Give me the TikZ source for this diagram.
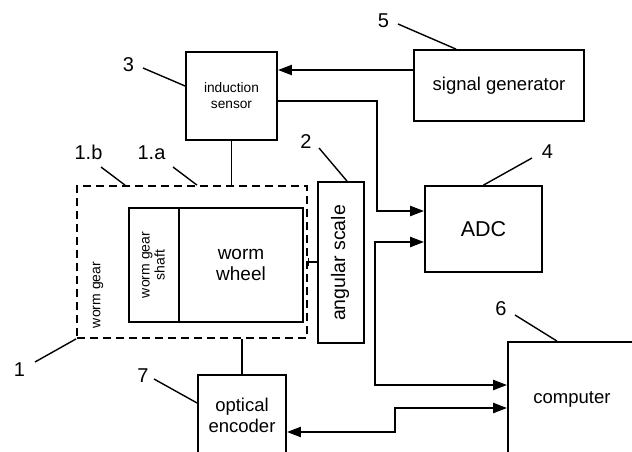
\documentclass[tikz,border=0pt]{standalone}
\usepackage{fontspec}
\setmainfont{Liberation Sans}
\usetikzlibrary{arrows.meta,calc}
\begin{document}
\begin{tikzpicture}[x=1pt,y=-1pt,
  box/.style={draw, line width=1.8pt, inner sep=0pt, align=center},
  dbox/.style={draw, line width=1.8pt, dash pattern=on 8pt off 5pt, inner sep=0pt},
  lead/.style={line width=1.4pt},
  link/.style={line width=1.8pt},
  arr/.style={line width=2.2pt, -{Triangle[length=14pt,width=10pt]}},
  darr/.style={line width=2.2pt, {Triangle[length=14pt,width=10pt]}-{Triangle[length=14pt,width=10pt]}},
  num/.style={font=\fontsize{20}{20}\selectfont, inner sep=0pt},
  big/.style={font=\fontsize{18.5}{21}\selectfont},
  small/.style={font=\fontsize{13.7}{16}\selectfont}]
\useasboundingbox (0,0) rectangle (632,452);
\clip (0,0) rectangle (632,452);
% boxes
\node[box, small, minimum width=91pt, minimum height=88pt] (sensor) at (231.5,96) {induction\\sensor};
\node[box, big, minimum width=170pt, minimum height=71pt] (siggen) at (499,85.5) {signal generator};
\node[box, font=\fontsize{21.5}{24}\selectfont, minimum width=117pt, minimum height=86pt] (adc) at (483.5,229) {ADC};
\node[box, big, minimum width=128pt, minimum height=114pt] (computer) at (572,399) {computer};
\node[box, big, minimum width=88pt, minimum height=80pt] (enc) at (242,415) {optical\\encoder};
\node[dbox, minimum width=230pt, minimum height=152pt] (gear) at (192,262) {};
\node[box, font=\fontsize{19}{21}\selectfont, minimum width=124pt, minimum height=114pt] (wheel) at (241,265) {worm\\wheel};
\node[box, minimum width=50pt, minimum height=114pt] (shaft) at (154,265) {};
\node[small, font=\fontsize{14}{15}\selectfont, rotate=90, align=center] (shafttxt) at (153.5,265) {worm gear\\shaft};
\node[font=\fontsize{14}{16}\selectfont, rotate=90] (geartxt) at (98,295) {worm gear};
\node[box, minimum width=46pt, minimum height=161pt] (scale) at (341,262.5) {};
\node[font=\fontsize{19.5}{21}\selectfont, rotate=90] (scaletxt) at (340,263) {angular scale};
% connectors
\draw[link] (sensor.south) -- (sensor.south |- gear.north);
\draw[link] (enc.north) -- (enc.north |- gear.south);
\draw[lead, {Bar[width=8pt]}-] (gear.east) -- (gear.east -| scale.west);
\draw[arr] ([shift={(0,-15.5)}]siggen.west) -- ([shift={(0,-15.5)}]siggen.west -| sensor.east);
\draw[arr] ([shift={(0,5)}]sensor.east) -- ++(99,0) |- ([shift={(0,-18)}]adc.west);
\draw[darr] ([shift={(0,13)}]adc.west) -- ++(-49,0) |- ([shift={(0,-14)}]computer.west);
\draw[darr] ([shift={(0,17)}]enc.east) -- ++(108,0) |- ([shift={(0,9)}]computer.west);
% labels
\node[num] (l3) at (128.5,64.5) {3};
\node[num] (l5) at (383.5,21) {5};
\node[num] (l2) at (306,141.5) {2};
\node[num] (l4) at (547.5,152) {4};
\node[num] (l1b) at (88.5,152.5) {1.b};
\node[num] (l1a) at (151.5,152.5) {1.a};
\node[num] (l1) at (19.5,369.5) {1};
\node[num] (l7) at (143,376) {7};
\node[num] (l6) at (501,309) {6};
\draw[lead] ([shift={(14.5,3.5)}]l3.center) -- ([shift={(0,-10)}]sensor.west);
\draw[lead] ([shift={(14.5,3)}]l5.center) -- ([shift={(-43,0)}]siggen.north);
\draw[lead] ([shift={(13,6.5)}]l2.center) -- ([shift={(6,0)}]scale.north);
\draw[lead] ([shift={(-15.5,6)}]l4.center) -- (adc.north);
\draw[lead] ([shift={(12.5,14.5)}]l1b.center) -- ([shift={(-67,0)}]gear.north);
\draw[lead] ([shift={(21.5,14.5)}]l1a.center) -- ([shift={(5,0)}]gear.north);
\draw[lead] ([shift={(15.5,-7.5)}]l1.center) -- (gear.south west);
\draw[lead] ([shift={(11,3)}]l7.center) -- ([shift={(0,-12)}]enc.west);
\draw[lead] ([shift={(14,6)}]l6.center) -- ([shift={(-15,0)}]computer.north);
\end{tikzpicture}
\end{document}
